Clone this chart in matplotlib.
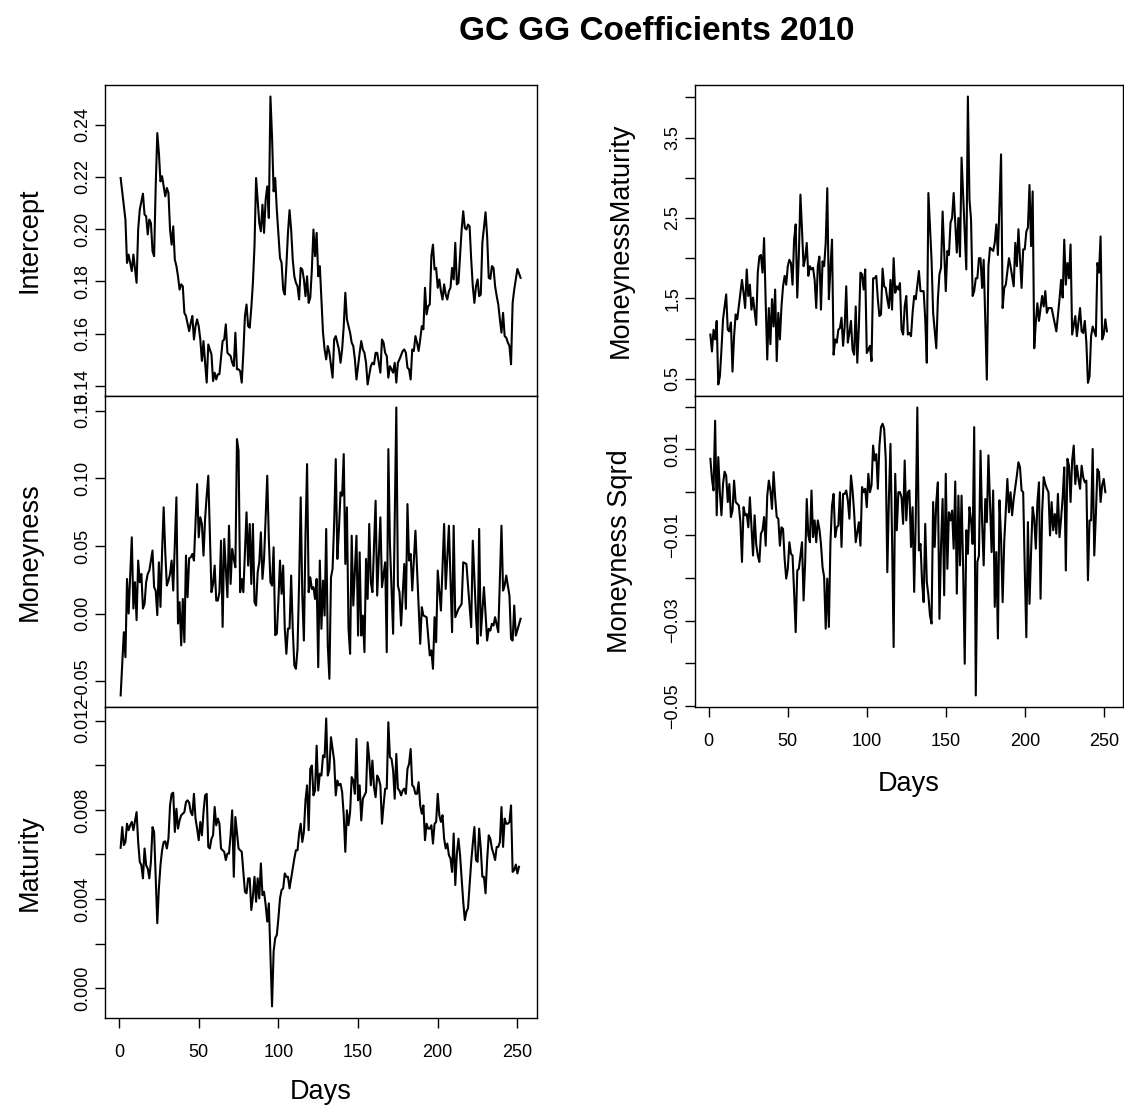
import matplotlib
matplotlib.use("Agg")
import matplotlib.pyplot as plt
from matplotlib.ticker import MultipleLocator, FuncFormatter

plt.rcParams['font.family'] = ['Liberation Sans', 'DejaVu Sans']

# ---- coefficient series (day index, value) ----
intercept_day = ([1, 4, 5, 6, 8, 9, 11, 12, 13] + list(range(15, 43)) + list(range(44, 64))
                 + [65, 66, 67, 68] + list(range(70, 87)) + list(range(88, 133))
                 + list(range(134, 157)) + list(range(158, 177)) + list(range(178, 214))
                 + list(range(215, 251)) + [252])
intercept = [
    0.2196, 0.2037, 0.1871, 0.1903, 0.1840, 0.1903, 0.1795, 0.1999, 0.2075,
    0.2136, 0.2056, 0.2050, 0.1980, 0.2037, 0.2024, 0.1916, 0.1897, 0.2164, 0.2368,
    0.2292, 0.2183, 0.2203, 0.2164, 0.2126, 0.2158, 0.2139, 0.1999, 0.1941, 0.2011,
    0.1884, 0.1859, 0.1820, 0.1769, 0.1789, 0.1782, 0.1680, 0.1668,
    0.1610, 0.1642, 0.1668, 0.1578, 0.1629, 0.1655, 0.1629, 0.1578, 0.1496, 0.1572,
    0.1489, 0.1413, 0.1559, 0.1540, 0.1521, 0.1419, 0.1451, 0.1425, 0.1445, 0.1445,
    0.1572, 0.1578, 0.1636, 0.1527,
    0.1515, 0.1489, 0.1476, 0.1604, 0.1464, 0.1464, 0.1457, 0.1413, 0.1527, 0.1668,
    0.1712, 0.1629, 0.1623, 0.1699, 0.1795, 0.1935, 0.2196,
    0.2024, 0.1992, 0.2094, 0.1986, 0.2113, 0.2164, 0.2043, 0.2508, 0.2355, 0.2145,
    0.2196, 0.2075, 0.1980, 0.1890, 0.1871, 0.1769, 0.1750, 0.1859, 0.1986, 0.2073,
    0.1999, 0.1884, 0.1820, 0.1795, 0.1782, 0.1731, 0.1852, 0.1846, 0.1808, 0.1744,
    0.1820, 0.1718, 0.1738, 0.1846, 0.1999, 0.1897, 0.1986, 0.1820,
    0.1859, 0.1731, 0.1604, 0.1540, 0.1502, 0.1553, 0.1527,
    0.1432, 0.1578, 0.1591, 0.1566, 0.1540, 0.1489, 0.1540, 0.1629, 0.1757, 0.1655,
    0.1629, 0.1604, 0.1566, 0.1553, 0.1502, 0.1425, 0.1476, 0.1527, 0.1572, 0.1540,
    0.1527, 0.1489, 0.1406,
    0.1476, 0.1489, 0.1483, 0.1527, 0.1527, 0.1489, 0.1451, 0.1578, 0.1566, 0.1527,
    0.1515, 0.1432, 0.1476, 0.1464, 0.1451, 0.1489, 0.1413, 0.1489, 0.1502,
    0.1534, 0.1540, 0.1527, 0.1470, 0.1464, 0.1425, 0.1540, 0.1534, 0.1591, 0.1566,
    0.1534, 0.1578, 0.1629, 0.1617, 0.1776, 0.1674, 0.1706, 0.1712, 0.1897, 0.1941,
    0.1846, 0.1852, 0.1776, 0.1808, 0.1763, 0.1731, 0.1789, 0.1750, 0.1731, 0.1763,
    0.1776, 0.1852, 0.1808, 0.1948, 0.1789, 0.1795,
    0.1999, 0.2069, 0.2005, 0.1999, 0.2018, 0.2011, 0.1884, 0.1782, 0.1718, 0.1782,
    0.1808, 0.1744, 0.1750, 0.1948, 0.2005, 0.2065, 0.1973, 0.1814, 0.1810, 0.1859,
    0.1852, 0.1782, 0.1744, 0.1712, 0.1655, 0.1604, 0.1680, 0.1591, 0.1585, 0.1566,
    0.1553, 0.1483, 0.1718, 0.1769, 0.1808, 0.1848,
    0.1814,
]

moneyness_day = ([1, 3, 4, 5, 6] + list(range(8, 20)) + list(range(21, 48)) + list(range(49, 57))
                 + list(range(58, 79)) + list(range(80, 92)) + list(range(93, 148))
                 + list(range(149, 160))
                 + [161, 162, 164, 165, 167, 168, 169, 170, 172, 174, 175, 176, 177, 179, 180,
                    181, 182, 183, 184, 186, 187, 189, 190, 191, 193, 195, 196, 197, 198, 199,
                    200, 202, 204, 205, 207, 209, 210, 211, 213, 215, 216, 218, 219, 221, 222,
                    224, 225, 226, 227, 229, 231, 232, 233, 234, 235, 236, 238, 240, 241, 242,
                    243, 245, 246, 247, 248, 249, 252])
moneyness = [
    -0.0606, -0.0138, -0.0323, 0.0256, 0.0000,
    0.0564, 0.0037, 0.0232, -0.0049, 0.0392, 0.0232, 0.0293, 0.0037, 0.0071, 0.0232,
    0.0293, 0.0318,
    0.0466, 0.0195, 0.0170, -0.0012, 0.0379, 0.0049, 0.0453, 0.0786, 0.0453, 0.0207,
    0.0244, 0.0293, 0.0392, 0.0170, 0.0515, 0.0860, -0.0074, 0.0084, -0.0236, 0.0108,
    -0.0212, 0.0429, 0.0121, 0.0409, 0.0416, 0.0441, 0.0392,
    0.0958, 0.0564, 0.0712, 0.0663, 0.0429, 0.0700, 0.0872, 0.1020,
    0.0158, 0.0219, 0.0355, 0.0096, 0.0096, 0.0158, 0.0539, -0.0099, 0.0552, 0.0330,
    0.0121, 0.0650, 0.0219, 0.0478, 0.0404, 0.0342, 0.1291, 0.1204, 0.0158, 0.0256,
    0.0158,
    0.0749, 0.0355, 0.0663, 0.0219, 0.0663, 0.0084, 0.0059, 0.0305, 0.0379, 0.0601,
    0.0256, 0.0404,
    0.1020, 0.0552, 0.0232, 0.0207, 0.0490, -0.0160, -0.0150, 0.0096, 0.0392, 0.0146,
    0.0355, -0.0111, -0.0298, -0.0111, -0.0111, 0.0281, -0.0111, -0.0384, -0.0409, -0.0261,
    0.0232, 0.0860, 0.0133, -0.0200, 0.0576, 0.1106, 0.0158, 0.0268, 0.0182, 0.0195,
    0.0108, 0.0256, -0.0397,
    0.0392, -0.0113, 0.0244, -0.0015, 0.0626, -0.0236, -0.0483, 0.0268, 0.0330, 0.0675,
    0.1143, 0.0404, 0.0626, 0.0897, 0.0872, 0.1180, 0.0367, 0.0786, -0.0113, -0.0298,
    0.0576, 0.0059,
    0.0576, -0.0163, 0.0453, -0.0163, -0.0015, -0.0286, 0.0404, 0.0108, 0.0663, 0.0232,
    0.0158,
    0.0835, 0.0133, 0.0712, 0.0195, 0.0379, -0.0286, 0.1217, 0.0515, -0.0150, 0.1525,
    0.0207, 0.0158, -0.0089, 0.0367, 0.0034, 0.0810, 0.0392, 0.0441, 0.0170, 0.0613,
    0.0330, -0.0224, 0.0047, -0.0015, -0.0027, -0.0310, -0.0273, -0.0409, -0.0027, -0.0212,
    0.0318, 0.0022, 0.0663, 0.0182, 0.0650, -0.0138, 0.0650, -0.0027, 0.0034, 0.0071,
    0.0379, 0.0367, 0.0207, -0.0101, 0.0539, -0.0015, -0.0224, 0.0626, -0.0163, 0.0195,
    -0.0200, -0.0113, -0.0126, -0.0076, -0.0089, -0.0027, -0.0138, 0.0650, 0.0170, 0.0207,
    0.0281, 0.0133, -0.0187, -0.0200, 0.0059, -0.0163, -0.0039,
]

maturity_day = list(range(1, 10)) + list(range(11, 74)) + list(range(75, 252))
maturity = [
    0.00630, 0.00723, 0.00642, 0.00656, 0.00738, 0.00709, 0.00731, 0.00746, 0.00709,
    0.00790, 0.00656, 0.00567, 0.00552, 0.00493, 0.00627, 0.00552, 0.00537, 0.00493, 0.00567,
    0.00723, 0.00701, 0.00493, 0.00292, 0.00448, 0.00552, 0.00619, 0.00656, 0.00659, 0.00627,
    0.00671, 0.00820, 0.00872, 0.00877, 0.00701, 0.00805, 0.00716, 0.00753, 0.00776, 0.00783,
    0.00790, 0.00835, 0.00843, 0.00832, 0.00790, 0.00776, 0.00872, 0.00761, 0.00716, 0.00664,
    0.00746, 0.00686, 0.00790, 0.00865, 0.00872, 0.00634, 0.00627, 0.00671, 0.00686, 0.00813,
    0.00731, 0.00761, 0.00738, 0.00627, 0.00619, 0.00612, 0.00575, 0.00604, 0.00604, 0.00686,
    0.00798, 0.00500, 0.00768,
    0.00627, 0.00619, 0.00612, 0.00522, 0.00433, 0.00426, 0.00493, 0.00493, 0.00351, 0.00411,
    0.00500, 0.00388, 0.00493, 0.00403, 0.00560, 0.00418, 0.00433, 0.00374, 0.00299, 0.00381,
    0.00150, -0.00081, 0.00165, 0.00225, 0.00239, 0.00314, 0.00403, 0.00441, 0.00448, 0.00515,
    0.00500, 0.00500, 0.00448, 0.00493, 0.00537, 0.00582, 0.00619, 0.00619, 0.00694, 0.00738,
    0.00656, 0.00701, 0.00843, 0.00910, 0.00709, 0.00984, 0.00999, 0.00865, 0.00887, 0.01088,
    0.00887, 0.00962,
    0.00954, 0.01044, 0.01036, 0.01210, 0.00954, 0.00984, 0.01126, 0.01073, 0.01021, 0.00865,
    0.00932, 0.00910, 0.00917, 0.00880, 0.00776, 0.00612, 0.00798, 0.00731, 0.00790, 0.00947,
    0.00932, 0.00872, 0.01118, 0.00843, 0.00910, 0.00753, 0.00850, 0.00865, 0.00880, 0.01103,
    0.01029, 0.00910, 0.01021, 0.00902, 0.00857, 0.00954, 0.00939, 0.00910, 0.00738, 0.00820,
    0.00895, 0.00895, 0.01193, 0.01036, 0.01029, 0.00977, 0.00850, 0.01051, 0.00895, 0.00887,
    0.00865, 0.00887, 0.00895, 0.00872, 0.00984, 0.01006, 0.01073, 0.00910, 0.00902, 0.00872,
    0.00872, 0.00924, 0.00820, 0.00783, 0.00820, 0.00664, 0.00738, 0.00716, 0.00716, 0.00731,
    0.00649, 0.00738, 0.00746, 0.00872, 0.00776, 0.00746, 0.00776, 0.00671, 0.00627, 0.00649,
    0.00597, 0.00582, 0.00522, 0.00694, 0.00463, 0.00604, 0.00671, 0.00597, 0.00493, 0.00388,
    0.00306, 0.00344, 0.00359, 0.00463, 0.00567, 0.00649, 0.00723, 0.00575, 0.00567, 0.00716,
    0.00627, 0.00500, 0.00500, 0.00426, 0.00575, 0.00686, 0.00671, 0.00627, 0.00604, 0.00575,
    0.00634, 0.00634, 0.00656, 0.00813, 0.00634, 0.00761, 0.00738, 0.00738, 0.00746, 0.00820,
    0.00522, 0.00530, 0.00555, 0.00515, 0.00545,
]

mm_day = (list(range(1, 10)) + list(range(11, 20)) + list(range(21, 29)) + list(range(30, 59))
          + list(range(60, 127))
          + [127, 128, 129, 130, 131, 133, 134, 136, 137, 138, 139, 141, 142, 144, 145, 146,
             147, 148, 150, 151, 152, 153, 154, 155, 157, 158, 159, 160, 163, 164, 165, 166,
             167, 168, 169, 170, 171, 172, 173, 174, 176, 177, 178, 180, 181, 182, 183, 185,
             186, 187, 188, 190, 191, 193, 194, 195, 196, 198, 199, 200, 201, 202, 203, 204,
             205, 206, 207, 208, 209, 211, 212, 213, 214, 215, 217, 220, 222, 223, 224, 225,
             226, 227, 228, 229, 230, 232, 233, 235, 236, 237, 238, 239, 240, 241, 242, 243,
             245, 246, 247, 248, 249, 250, 251, 252])
moneyness_maturity = [
    1.05, 0.84, 1.11, 0.99, 1.22, 0.43, 0.53, 0.86, 1.24,
    1.55, 1.11, 1.09, 1.20, 0.59, 1.03, 1.30, 1.24, 1.40,
    1.73, 1.57, 1.38, 1.86, 1.53, 1.67, 1.36, 1.51,
    1.17, 1.82, 2.02, 2.04, 1.82, 2.25, 1.46, 0.74, 1.38, 0.93,
    1.49, 1.15, 1.61, 0.72, 1.32, 0.99, 1.40, 1.65, 1.78, 1.67,
    1.90, 1.98, 1.94, 1.67, 2.23, 2.42, 1.51, 2.04, 2.79,
    1.90, 2.00, 2.19, 1.78, 1.90, 1.86, 1.88, 1.73, 1.38, 1.90,
    2.02, 1.36, 1.96, 1.90, 2.19, 2.87, 1.49, 1.88, 2.23, 0.80,
    0.99, 0.95, 1.11, 1.13, 1.26, 0.91, 1.15, 1.65, 0.95, 1.07,
    1.22, 0.86, 0.80, 1.40, 0.70, 1.15, 1.82, 1.80, 1.61, 1.86,
    0.82, 0.86, 0.91, 0.72, 1.75, 1.75, 1.78, 1.49, 1.28, 1.30,
    1.87, 1.65, 1.63, 1.49, 1.38, 1.73, 1.36, 2.00, 1.57, 1.65,
    1.61, 1.69, 1.11, 1.05, 1.40, 1.53, 1.05,
    1.07, 1.03, 1.32, 1.53, 1.49, 1.84, 1.59, 1.59, 1.24, 0.70, 2.81, 1.98, 1.32, 0.88,
    1.49, 1.80, 1.88, 2.58, 1.59, 2.09, 2.04, 2.44, 2.50, 2.81, 2.07, 2.50, 2.02, 3.25,
    1.86, 4.01, 2.73, 2.48, 1.53, 1.59, 1.75, 1.75, 2.00, 2.00, 1.63, 1.98, 0.49, 1.90,
    2.13, 2.09, 2.19, 2.42, 2.04, 3.29, 1.38, 1.63, 1.67, 2.00, 1.90, 1.65, 2.19, 1.90,
    2.36, 1.63, 2.11, 2.11, 2.33, 2.38, 2.91, 2.15, 2.83, 0.88, 1.20, 1.44, 1.22, 1.53,
    1.40, 1.59, 1.32, 1.38, 1.38, 1.09, 1.49, 1.73, 1.51, 2.23, 1.67, 1.94, 1.75, 2.17,
    1.05, 1.28, 1.03, 1.38, 1.09, 1.07, 1.22, 0.95, 0.45, 0.53, 1.03, 1.15, 1.03, 1.94,
    1.82, 2.27, 0.99, 1.05, 1.24, 1.09,
]

# one value per day, days 1..251
moneyness_sqrd = [
    0.0078, 0.0031, 0.0004, 0.0167, -0.0054, 0.0082, 0.0000, -0.0054, 0.0019, 0.0048,
    0.0039, -0.0023, 0.0019, -0.0058, -0.0043, 0.0027, -0.0023, -0.0027, -0.0031, -0.0070,
    -0.0163, -0.0035, -0.0054, -0.0051, -0.0082, -0.0012, -0.0078, -0.0148, -0.0054, -0.0121,
    -0.0148, -0.0163, -0.0097, -0.0089, -0.0058, -0.0125, -0.0008, 0.0027, 0.0004, -0.0039,
    0.0047, -0.0012, -0.0058, -0.0062, -0.0125, -0.0082, -0.0086, -0.0156, -0.0202, -0.0179,
    -0.0117, -0.0144, -0.0148, -0.0233, -0.0327, -0.0183, -0.0179, -0.0148, -0.0117, -0.0253,
    -0.0163, -0.0016, -0.0101, -0.0117, 0.0004, -0.0105, -0.0066, -0.0117, -0.0066, -0.0086,
    -0.0121, -0.0175, -0.0198, -0.0319, -0.0202, -0.0315, -0.0117, -0.0031, -0.0004, -0.0105,
    -0.0082, -0.0078, 0.0000, -0.0128, -0.0004, -0.0004, 0.0004, -0.0019, -0.0062, 0.0039,
    0.0004, -0.0047, -0.0117, -0.0093, -0.0070, -0.0125, 0.0012, 0.0000, 0.0008, -0.0035,
    0.0043, 0.0000, 0.0016, 0.0109, 0.0074, 0.0089, 0.0008, 0.0109, 0.0152, 0.0160,
    0.0148, 0.0078, -0.0187, -0.0016, 0.0113, -0.0109, -0.0362, 0.0043, -0.0089, 0.0000,
    0.0000, -0.0012, -0.0074, 0.0074, -0.0066,
    0.0000, 0.0004, -0.0128, -0.0035, -0.0233, -0.0062, 0.0198, -0.0136, -0.0121, -0.0210,
    -0.0257, -0.0074, -0.0210, -0.0241, -0.0288, -0.0307, -0.0023, -0.0128, -0.0023, 0.0023,
    -0.0296, -0.0125, -0.0016, -0.0241, 0.0043, -0.0179, -0.0047, -0.0066, -0.0043, -0.0132,
    0.0025, -0.0237, -0.0008, -0.0171, -0.0008, -0.0179, -0.0401, -0.0089, -0.0144, -0.0035,
    -0.0066, -0.0121, 0.0152, -0.0475, -0.0163, -0.0148, 0.0097, -0.0070, -0.0171, -0.0016,
    -0.0070, 0.0086, -0.0023, -0.0140, 0.0004, -0.0268, -0.0140, -0.0342, -0.0019, -0.0109,
    -0.0257, -0.0117, -0.0043, 0.0031, -0.0047, 0.0000, -0.0054, -0.0016, 0.0012, 0.0039,
    0.0070, 0.0058, 0.0004, 0.0000, -0.0179, -0.0339, -0.0070, -0.0261, -0.0140, -0.0035,
    -0.0062, -0.0132, -0.0023, 0.0023, -0.0249, -0.0047, 0.0035, 0.0019, 0.0008, 0.0000,
    -0.0101, -0.0023, -0.0089, -0.0051, -0.0097, -0.0004, -0.0105, -0.0062, -0.0012, 0.0058,
    -0.0183, 0.0078, 0.0062, -0.0023, 0.0074, 0.0109, 0.0019, 0.0062, 0.0031, 0.0008,
    0.0062, 0.0035, 0.0023, 0.0027, -0.0206, -0.0066, -0.0066, 0.0101, -0.0148, -0.0054,
    0.0054, 0.0047, -0.0023, 0.0016, 0.0031, 0.0000,
]
msq_day = list(range(1, len(moneyness_sqrd) + 1))

n_days = 252
title = "GC GG Coefficients 2010"
x_ticks = [0, 50, 100, 150, 200, 250]


def tick_fmt(fmt, label_step, base):
    # R drops every other label when they would collide, mimic that
    def f(v, pos):
        k = (v - base) / label_step
        if abs(k - round(k)) > 1e-6:
            return ''
        if abs(v) < 1e-12:
            v = 0.0
        return (fmt % v).replace('-', '\u2212')
    return FuncFormatter(f)


fig = plt.figure(figsize=(11.24, 11.11), dpi=100, facecolor='white')

left_x, left_w = 0.0931, 0.3843
right_x, right_w = 0.6179, 0.3810
ph = 0.2799
rows = [0.6436, 0.3637, 0.0838]


def panel(rect, day, vals, ylab, step, fmt, label_step, base, xaxis=False, xlab_y=-0.24):
    ax = fig.add_axes(rect)
    ax.plot(day, vals, color='black', lw=1.5)
    xpad = 0.04 * (n_days - 1)
    ax.set_xlim(1 - xpad, n_days + xpad)
    lo, hi = min(vals), max(vals)
    ypad = 0.04 * (hi - lo)
    ax.set_ylim(lo - ypad, hi + ypad)
    ax.yaxis.set_major_locator(MultipleLocator(step))
    ax.yaxis.set_major_formatter(tick_fmt(fmt, label_step, base))
    ax.tick_params(axis='y', direction='out', length=7.5, width=1.0,
                   labelsize=13, pad=2, labelrotation=90)
    plt.setp(ax.get_yticklabels(), va='center')
    for s in ax.spines.values():
        s.set_linewidth(1.0)
    ax.set_ylabel(ylab, fontsize=19.5)
    ax.yaxis.label.set_va('center')
    ax.yaxis.set_label_coords(-0.173, 0.5)
    if xaxis:
        ax.set_xticks(x_ticks)
        ax.tick_params(axis='x', direction='out', length=7.5, width=1.0,
                       labelsize=13, pad=11)
        ax.set_xlabel('Days', fontsize=19.5)
        ax.xaxis.label.set_va('center')
        ax.xaxis.set_label_coords(0.5, xlab_y)
    else:
        ax.set_xticks([])
    return ax


panel([left_x, rows[0], left_w, ph], intercept_day, intercept, 'Intercept',
      0.02, '%.2f', 0.02, 0.0)
panel([left_x, rows[1], left_w, ph], moneyness_day, moneyness, 'Moneyness',
      0.05, '%.2f', 0.05, 0.0)
panel([left_x, rows[2], left_w, ph], maturity_day, maturity, 'Maturity',
      0.002, '%.3f', 0.004, 0.0, xaxis=True, xlab_y=-0.238)

panel([right_x, rows[0], right_w, ph], mm_day, moneyness_maturity, 'MoneynessMaturity',
      0.5, '%.1f', 1.0, 0.5)
panel([right_x, rows[1], right_w, ph], msq_day, moneyness_sqrd, 'Moneyness Sqrd',
      0.01, '%.2f', 0.02, 0.01, xaxis=True, xlab_y=-0.248)

fig.text(0.584, 0.972, title, ha='center', va='center', fontsize=24, fontweight='bold')

fig.savefig('out.png', dpi=100, facecolor='white')
